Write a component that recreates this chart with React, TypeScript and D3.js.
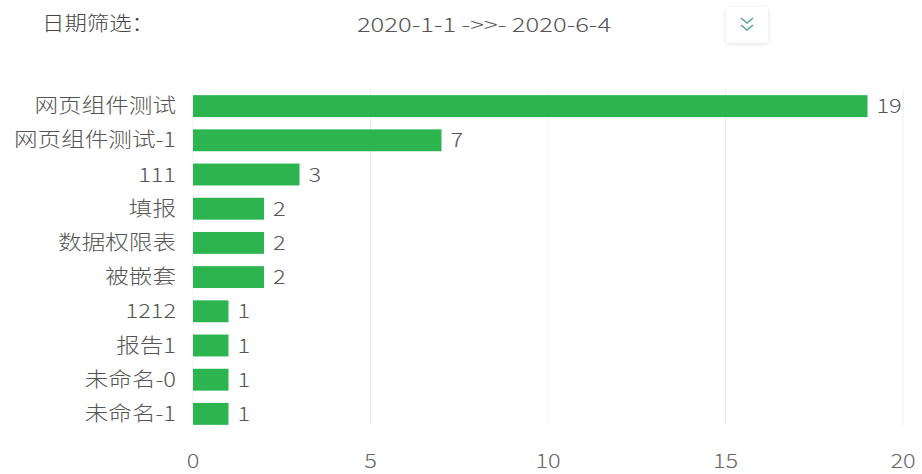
import React from "react";
import * as d3 from "d3";

const categories = ["网页组件测试", "网页组件测试-1", "111", "填报", "数据权限表", "被嵌套", "1212", "报告1", "未命名-0", "未命名-1"];
const values = [19, 7, 3, 2, 2, 2, 1, 1, 1, 1];
const xTicks = [0, 5, 10, 15, 20];
const headerLabel = "日期筛选：";
const dateRange = "2020-1-1 ->>- 2020-6-4";

const W = 922;
const H = 474;
const FONT = "'Noto Sans CJK SC', 'Noto Sans', sans-serif";
const SX = 1.18;

function T(props: { x: number; y: number; sx?: number; anchor?: string; size?: number; fill?: string; dy?: string; children: React.ReactNode }) {
  const { x, y, sx = SX, anchor = "start", size = 20, fill = "#555", dy, children } = props;
  return (
    <text transform={`translate(${x},${y}) scale(${sx},1)`} fontSize={size} fill={fill} textAnchor={anchor} dy={dy} fontWeight={300}>
      {children}
    </text>
  );
}

export default function App() {
  const x = d3.scaleLinear().domain([0, 20]).range([193, 903]);
  const y = d3.scaleBand<string>().domain(categories).range([89, 431]).paddingInner(0.36).paddingOuter(0.18);
  return (
    <svg width={W} height={H} style={{ position: "absolute", left: 0, top: 0, background: "#fff" }} fontFamily={FONT}>
      <defs>
        <filter id="sh" x="-50%" y="-50%" width="200%" height="200%">
          <feDropShadow dx="0" dy="1" stdDeviation="2" floodColor="#000" floodOpacity="0.12" />
        </filter>
      </defs>
      <T x={42} y={31} sx={1.12} fill="#444">{headerLabel}</T>
      <T x={484} y={32} sx={1.28} fill="#555" anchor="middle">{dateRange}</T>
      <rect x={726} y={7} width={42} height={36} rx={3} fill="#fff" filter="url(#sh)" />
      <path d="M741,18 L747,23 L753,18 M741,25 L747,30 L753,25" fill="none" stroke="#5aa888" strokeWidth={1.6} />
      {xTicks.slice(1).map((t) => (
        <line key={t} x1={x(t)} x2={x(t)} y1={89} y2={425} stroke="#eeeeee" strokeWidth={1} />
      ))}
      <line x1={x(0)} x2={x(0)} y1={89} y2={425} stroke="#f2f2f2" strokeWidth={1} />
      {categories.map((c, i) => (
        <g key={c}>
          <rect x={x(0)} y={y(c)} width={x(values[i]) - x(0)} height={y.bandwidth()} fill="#2cb54f" />
          <T x={176} y={(y(c) as number) + y.bandwidth() / 2} dy="0.35em" anchor="end">{c}</T>
          <T x={x(values[i]) + 9} y={(y(c) as number) + y.bandwidth() / 2} dy="0.35em">{values[i]}</T>
        </g>
      ))}
      {xTicks.map((t) => (
        <T key={t} x={x(t)} y={468} fill="#666" anchor="middle">{t}</T>
      ))}
    </svg>
  );
}
